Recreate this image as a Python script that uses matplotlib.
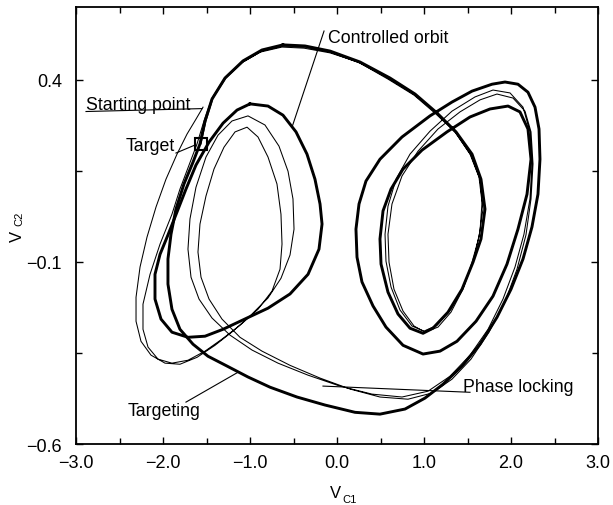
import matplotlib
matplotlib.use("Agg")
import matplotlib.pyplot as plt
from matplotlib.ticker import MultipleLocator, FixedLocator, FuncFormatter

plt.rcParams['font.family'] = ['Liberation Sans', 'DejaVu Sans']

# ---------------- data (V_C1 / V_C2 units) ----------------
# controlled orbit: big left arc + right-lobe loops + lower arc (closed)
orbit_x = [-0.621, -0.368, -0.080, 0.264, 0.609, 0.897, 1.149, 1.368, 1.552, 1.655,
           1.701, 1.655, 1.563, 1.437, 1.276, 1.103, 0.989, 0.839, 0.701, 0.586,
           0.506, 0.494, 0.529, 0.621, 0.759, 0.977, 1.264, 1.529, 1.759, 1.966,
           2.103, 2.195, 2.230, 2.184, 2.080, 1.954, 1.793, 1.598, 1.379, 1.184,
           0.989, 0.759, 0.563, 0.414, 0.287, 0.230, 0.218, 0.253, 0.333, 0.494,
           0.747, 1.069, 1.322, 1.552, 1.782, 1.931, 2.080, 2.195, 2.276, 2.322,
           2.333, 2.310, 2.241, 2.138, 2.000, 1.839, 1.644, 1.437, 1.218, 1.011,
           0.782, 0.494, 0.207, -0.138, -0.460, -0.770, -1.023, -1.264, -1.483, -1.655,
           -1.805, -1.897, -1.943, -1.943, -1.908, -1.851, -1.759, -1.655, -1.575, -1.517,
           -1.437, -1.287, -1.080, -0.862, -0.621]
orbit_y = [0.496, 0.493, 0.479, 0.449, 0.405, 0.361, 0.309, 0.257, 0.196, 0.127,
           0.045, -0.037, -0.101, -0.175, -0.238, -0.282, -0.296, -0.282, -0.243, -0.183,
           -0.106, -0.037, 0.040, 0.100, 0.155, 0.207, 0.257, 0.298, 0.320, 0.328,
           0.312, 0.265, 0.182, 0.086, -0.010, -0.106, -0.194, -0.263, -0.318, -0.345,
           -0.353, -0.329, -0.279, -0.221, -0.155, -0.087, -0.010, 0.059, 0.122, 0.182,
           0.243, 0.301, 0.339, 0.369, 0.388, 0.394, 0.388, 0.366, 0.325, 0.265,
           0.182, 0.086, -0.004, -0.092, -0.175, -0.252, -0.326, -0.386, -0.436, -0.474,
           -0.504, -0.518, -0.513, -0.493, -0.471, -0.444, -0.416, -0.386, -0.359, -0.326,
           -0.285, -0.230, -0.161, -0.092, -0.024, 0.045, 0.114, 0.174, 0.224, 0.287,
           0.347, 0.405, 0.452, 0.482, 0.496]

# controlled orbit: inner loop of the left scroll (closed)
inner_x = [-1.000, -0.793, -0.621, -0.471, -0.345, -0.253, -0.195, -0.172, -0.207, -0.333,
           -0.540, -0.793, -1.034, -1.310, -1.517, -1.713, -1.897, -2.023, -2.092, -2.092,
           -2.034, -1.943, -1.839, -1.736, -1.621, -1.471, -1.310, -1.149, -1.000]
inner_y = [0.334, 0.328, 0.303, 0.257, 0.196, 0.127, 0.059, 0.004, -0.065, -0.134,
           -0.188, -0.227, -0.254, -0.285, -0.304, -0.307, -0.293, -0.257, -0.202, -0.134,
           -0.079, -0.026, 0.037, 0.100, 0.166, 0.229, 0.281, 0.317, 0.334]

# targeting trajectory (thin), from the starting point to the target
traj_x = [-1.540, -1.621, -1.724, -1.839, -1.966, -2.080, -2.184, -2.264, -2.310, -2.310,
          -2.253, -2.138, -1.977, -1.805, -1.609, -1.402, -1.195, -0.989, -0.793, -0.644,
          -0.540, -0.494, -0.506, -0.563, -0.667, -0.828, -1.023, -1.207, -1.368, -1.506,
          -1.621, -1.690, -1.713, -1.678, -1.586, -1.437, -1.230, -0.977, -0.678, -0.333,
          0.034, 0.402, 0.747, 1.046, 1.299, 1.529, 1.736, 1.908, 2.046, 2.149,
          2.218, 2.241, 2.218, 2.138, 1.989, 1.793, 1.586, 1.322, 1.069, 0.839,
          0.678, 0.586, 0.552, 0.563, 0.621, 0.724, 0.862, 1.000, 1.149, 1.310,
          1.460, 1.575, 1.644, 1.667, 1.632, 1.529, 1.356, 1.138, 0.862, 0.563,
          0.241, -0.080, -0.379, -0.632, -0.885, -1.103, -1.299, -1.437, -1.529, -1.609,
          -1.701, -1.805, -1.897,
          -2.034, -2.149, -2.230, -2.230, -2.172, -2.057, -1.897, -1.713, -1.517, -1.322,
          -1.115, -0.908, -0.747, -0.655, -0.632, -0.644, -0.690, -0.793, -0.908, -1.034,
          -1.172, -1.299, -1.414, -1.506, -1.575, -1.598, -1.563, -1.471, -1.322, -1.115,
          -0.862, -0.540, -0.195, 0.149, 0.494, 0.816, 1.092, 1.322, 1.540, 1.747,
          1.931, 2.069, 2.172, 2.230, 2.253, 2.230, 2.161, 2.023, 1.839, 1.644,
          1.414, 1.161, 0.931, 0.747, 0.632, 0.586, 0.598, 0.655, 0.759, 0.885,
          1.011, 1.161, 1.310, 1.448, 1.552, 1.632, 1.678, 1.644, 1.540, 1.368,
          1.138, 0.885, 0.586, 0.264, -0.080, -0.368, -0.621, -0.862, -1.080, -1.276,
          -1.425, -1.506, -1.563]
traj_y = [0.325, 0.292, 0.251, 0.196, 0.127, 0.051, -0.032, -0.114, -0.197, -0.263,
          -0.318, -0.356, -0.378, -0.381, -0.362, -0.329, -0.290, -0.246, -0.199, -0.145,
          -0.081, -0.010, 0.073, 0.149, 0.218, 0.276, 0.301, 0.287, 0.248, 0.188,
          0.105, 0.018, -0.065, -0.142, -0.202, -0.254, -0.301, -0.342, -0.378, -0.411,
          -0.441, -0.463, -0.471, -0.455, -0.414, -0.356, -0.285, -0.202, -0.114, -0.024,
          0.073, 0.169, 0.257, 0.325, 0.364, 0.372, 0.353, 0.314, 0.259, 0.196,
          0.127, 0.053, -0.024, -0.098, -0.169, -0.232, -0.276, -0.290, -0.274, -0.230,
          -0.166, -0.092, -0.015, 0.064, 0.133, 0.196, 0.257, 0.312, 0.364, 0.408,
          0.449, 0.474, 0.487, 0.490, 0.476, 0.446, 0.402, 0.350, 0.287, 0.224,
          0.166, 0.100, 0.031,
          -0.051, -0.134, -0.216, -0.285, -0.334, -0.367, -0.378, -0.370, -0.345, -0.312,
          -0.274, -0.230, -0.180, -0.120, -0.051, 0.031, 0.114, 0.188, 0.243, 0.270,
          0.257, 0.215, 0.155, 0.081, 0.004, -0.073, -0.142, -0.202, -0.257, -0.307,
          -0.345, -0.384, -0.419, -0.449, -0.471, -0.477, -0.460, -0.422, -0.367, -0.293,
          -0.210, -0.120, -0.026, 0.073, 0.169, 0.257, 0.314, 0.350, 0.361, 0.345,
          0.312, 0.265, 0.204, 0.136, 0.059, -0.024, -0.101, -0.175, -0.235, -0.276,
          -0.293, -0.279, -0.238, -0.175, -0.101, -0.032, 0.045, 0.127, 0.193, 0.254,
          0.306, 0.358, 0.402, 0.446, 0.476, 0.490, 0.493, 0.479, 0.449, 0.405,
          0.350, 0.287, 0.224]

target_pt = (-1.563, 0.224)
start_pt = (-1.552, 0.321)

x_major = [-3.0, -2.0, -1.0, 0.0, 1.0, 2.0, 3.0]
y_major = [-0.6, -0.1, 0.4]
y_minor = [-0.35, 0.15]

# ---------------- figure ----------------
fig = plt.figure(figsize=(6.13, 5.06), dpi=100)
ax = fig.add_axes([76 / 613, 61 / 506, 522 / 613, 437 / 506])

ax.plot(traj_x, traj_y, color='black', lw=0.75, solid_joinstyle='round')
ax.plot(orbit_x, orbit_y, color='black', lw=2.1, solid_joinstyle='round')
ax.plot(inner_x, inner_y, color='black', lw=2.1, solid_joinstyle='round')

# target marker
ax.plot([target_pt[0]], [target_pt[1]], marker='s', ms=8, mfc='none', mec='black', mew=1.5)

# annotations (leader lines + labels)
lk = dict(color='black', lw=0.8)
ax.plot([-2.885, start_pt[0]], [0.313, start_pt[1]], **lk)
ax.text(-2.885, 0.320, 'Starting point', fontsize=12.8, ha='left', va='baseline')

ax.plot([-1.851, -1.632], [0.199, 0.221], **lk)
ax.text(-1.862, 0.206, 'Target', fontsize=12.8, ha='right', va='baseline')

ax.plot([-0.149, -0.517], [0.534, 0.270], **lk)
ax.text(-0.103, 0.504, 'Controlled orbit', fontsize=12.8, ha='left', va='baseline')

ax.plot([-1.736, -1.138], [-0.485, -0.403], **lk)
ax.text(-2.402, -0.521, 'Targeting', fontsize=12.8, ha='left', va='baseline')

ax.plot([-0.161, 1.529], [-0.441, -0.458], **lk)
ax.text(1.448, -0.455, 'Phase locking', fontsize=12.8, ha='left', va='baseline')

# axes
ax.set_xlim(-3.0, 3.0)
ax.set_ylim(-0.6, 0.6)
ax.xaxis.set_major_locator(FixedLocator(x_major))
ax.xaxis.set_minor_locator(MultipleLocator(0.5))
ax.yaxis.set_major_locator(FixedLocator(y_major))
ax.yaxis.set_minor_locator(FixedLocator(y_minor))
fmt = FuncFormatter(lambda v, p: f"{v:.1f}".replace('-', '\u2212'))
ax.xaxis.set_major_formatter(fmt)
ax.yaxis.set_major_formatter(fmt)
ax.tick_params(which='both', direction='in', top=True, right=True, width=1.0)
ax.tick_params(which='major', length=5, labelsize=13)
ax.tick_params(which='minor', length=4)
ax.tick_params(axis='x', which='major', pad=7)
ax.tick_params(axis='y', which='major', pad=10)
for s in ax.spines.values():
    s.set_linewidth(1.3)

# axis labels (V with small subscripts)
fig.text(335.5 / 613, (506 - 498) / 506, 'V', fontsize=12, ha='center', va='baseline')
fig.text(342 / 613, (506 - 503) / 506, 'C1', fontsize=8, ha='left', va='baseline')
fig.text(17 / 613, (506 - 236.5) / 506, 'V', fontsize=12, ha='center', va='center', rotation=90)
fig.text(19 / 613, (506 - 219) / 506, 'C2', fontsize=8, ha='center', va='center', rotation=90)

fig.savefig('out.png', dpi=100)
